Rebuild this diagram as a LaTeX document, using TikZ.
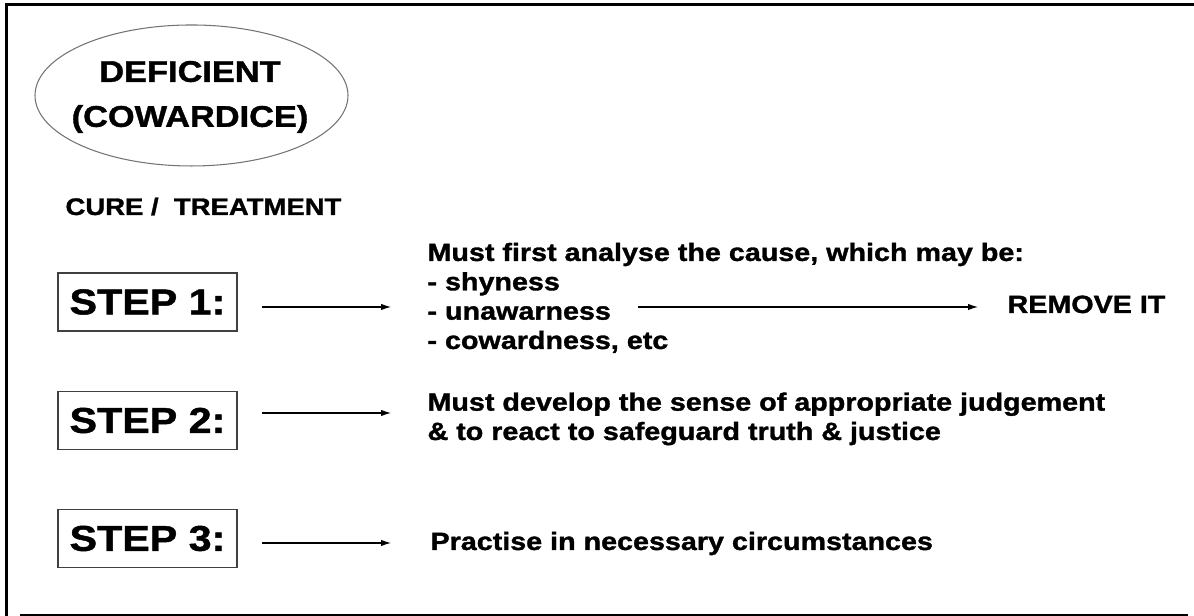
\documentclass[tikz,border=0pt]{standalone}
\usepackage{fontspec}
\setmainfont{Liberation Sans}[FakeStretch=1.15, BoldFeatures={FakeBold=1.3}]
\usetikzlibrary{arrows.meta,shapes.geometric}

\tikzstyle{txt} = [inner sep=0pt, anchor=base west, align=left, font=\bfseries\fontsize{7.1}{8.35}\selectfont]
\tikzstyle{stepbox} = [draw=black!75, line width=0.35pt, minimum width=1.79cm, minimum height=0.58cm, inner sep=0pt, font=\bfseries\fontsize{10.2}{12}\selectfont]

\begin{document}
\begin{tikzpicture}[
>={Latex[length=2.8pt,width=1.8pt]},
line width=0.3pt,
]
\useasboundingbox (0,0) rectangle (11.94,6.16);

% frame
\draw[line width=0.6pt] (0.05,6.115) -- (11.94,6.115);
\draw[line width=0.6pt] (0.065,6.115) -- (0.065,0);
\draw[line width=0.6pt] (0.20,0.01) -- (11.88,0.01);

% title
\node[ellipse, draw=black!55, minimum width=3.13cm, minimum height=1.41cm, inner sep=0pt] (defic) at (1.915,5.205) {};
\node[align=center, inner sep=0pt, font=\bfseries\fontsize{8.5}{12.8}\selectfont] (defictxt) at (1.9,5.19) {DEFICIENT\\(COWARDICE)};
\node[txt, font=\bfseries\fontsize{6.8}{8}\selectfont] (cure) at (0.65,4.01) {CURE /\ \ TREATMENT};

%STEP1
\node[stepbox] (step1) at (1.475,3.14) {STEP 1:};
\coordinate (s1a) at (2.62,3.09);
\coordinate (s1b) at (3.91,3.09);
\draw[->] (s1a) -- (s1b);
\node[txt] (cause) at (4.27,2.67) {Must first analyse the cause, which may be:\\
- shyness\\
- unawarness\\
- cowardness, etc};
\coordinate (r1a) at (6.38,3.09);
\coordinate (r1b) at (9.78,3.09);
\draw[->] (r1a) -- (r1b);
\node[txt] (remove) at (10.07,3.03) {REMOVE IT};

%STEP2
\node[stepbox] (step2) at (1.475,1.955) {STEP 2:};
\coordinate (s2a) at (2.62,2.03);
\coordinate (s2b) at (3.91,2.03);
\draw[->] (s2a) -- (s2b);
\node[txt] (judge) at (4.27,1.76) {Must develop the sense of appropriate judgement\\
\& to react to safeguard truth \& justice};

%STEP3
\node[stepbox] (step3) at (1.475,0.775) {STEP 3:};
\coordinate (s3a) at (2.62,0.73);
\coordinate (s3b) at (3.91,0.73);
\draw[->] (s3a) -- (s3b);
\node[txt] (pract) at (4.30,0.66) {Practise in necessary circumstances};
\end{tikzpicture}
\end{document}
